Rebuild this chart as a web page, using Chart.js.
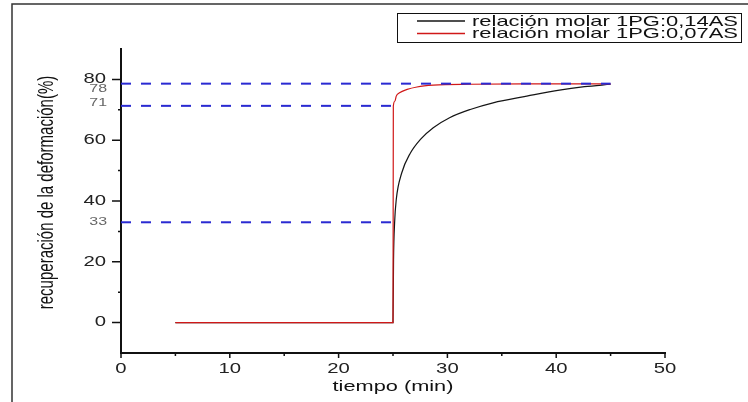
<!DOCTYPE html>
<html>
<head>
<meta charset="utf-8">
<script src="https://cdn.jsdelivr.net/npm/chart.js@4/dist/chart.umd.min.js"></script>
<style>
  html, body { margin: 0; padding: 0; background: #fff; }
  #chart { display: block; }
</style>
</head>
<body>
<canvas id="chart" width="748" height="402"></canvas>
<script>
// ===== data =====
const seriesLabels = ['relación molar 1PG:0,14AS', 'relación molar 1PG:0,07AS'];
const seriesColors = ['#151515', '#d01818'];

const blackX = [5, 25, 25.05, 25.15, 25.3, 25.8, 26.6, 27.5, 28.7, 30.2, 32.1, 34.2, 37.3, 40.3, 42.6, 45];
const blackY = [0, 0, 20.7, 33, 40.5, 49.2, 55.8, 60.2, 64.1, 67.4, 70.1, 72.3, 74.5, 76.5, 77.6, 78.4];

const redX = [5, 25, 25.03, 25.18, 25.3, 25.6, 26.3, 27.2, 28.7, 32, 38, 45];
const redY = [0, 0, 71.2, 72.9, 74.5, 75.6, 76.7, 77.5, 78.1, 78.4, 78.5, 78.5];

// dashed reference lines
const refY = [78.6, 71.3, 33];
const refEndX = [45, 25, 25.15];
const refLabels = ['78', '71', '33'];

// axis ticks
const xMajor = [0, 10, 20, 30, 40, 50];
const xMinor = [5, 15, 25, 35, 45];
const yMajor = [0, 20, 40, 60, 80];
const yMinor = [10, 30, 50, 70];

const xTitle = 'tiempo (min)';
const yTitle = 'recuperación de la deformación(%)';

// ===== helpers =====
const FONT = "'Liberation Sans', Arial, sans-serif";
const STRETCH = 1.45; // the picture is stretched sideways

function toPoints(xs, ys) {
  return xs.map((x, i) => ({ x: x, y: ys[i] }));
}

// draws text stretched sideways; fitWidth forces the final width
function wideText(ctx, text, x, y, size, align, color, rotate, fitWidth) {
  ctx.save();
  ctx.font = size + 'px ' + FONT;
  let sx = STRETCH;
  if (fitWidth) sx = fitWidth / ctx.measureText(text).width;
  ctx.translate(x, y);
  ctx.scale(sx, 1);
  if (rotate) ctx.rotate(-Math.PI / 2);
  ctx.fillStyle = color;
  ctx.textAlign = align;
  ctx.textBaseline = 'middle';
  ctx.fillText(text, 0, 0);
  ctx.restore();
}

const refDatasets = refY.map((y, i) => ({
  label: 'ref' + refLabels[i],
  data: [{ x: 0, y: y }, { x: refEndX[i], y: y }],
  borderColor: '#2a2ad2',
  borderWidth: 2,
  borderDash: [10, 10],
  pointRadius: 0,
  order: -1
}));

// ===== custom decorations: frame, ticks, labels, legend =====
const decor = {
  id: 'decor',
  beforeDraw(chart) {
    const ctx = chart.ctx;
    ctx.save();
    ctx.strokeStyle = '#333';
    ctx.lineWidth = 1.5;
    ctx.beginPath();
    ctx.moveTo(12, 402);
    ctx.lineTo(12, 4);
    ctx.lineTo(748, 4);
    ctx.stroke();
    ctx.restore();
  },
  afterDraw(chart) {
    const ctx = chart.ctx;
    const xs = chart.scales.x, ys = chart.scales.y;
    const area = chart.chartArea;

    ctx.save();
    ctx.strokeStyle = '#111';
    ctx.lineWidth = 1.5;
    ctx.beginPath();
    xMajor.forEach(v => { const p = xs.getPixelForValue(v); ctx.moveTo(p, area.bottom); ctx.lineTo(p, area.bottom + 5); });
    xMinor.forEach(v => { const p = xs.getPixelForValue(v); ctx.moveTo(p, area.bottom); ctx.lineTo(p, area.bottom + 3); });
    yMajor.forEach(v => { const p = ys.getPixelForValue(v); ctx.moveTo(area.left - 9, p); ctx.lineTo(area.left, p); });
    yMinor.forEach(v => { const p = ys.getPixelForValue(v); ctx.moveTo(area.left - 3, p); ctx.lineTo(area.left, p); });
    ctx.stroke();
    ctx.restore();

    xMajor.forEach(v => wideText(ctx, String(v), xs.getPixelForValue(v), area.bottom + 16, 14, 'center', '#222'));
    yMajor.forEach(v => wideText(ctx, String(v), area.left - 15, ys.getPixelForValue(v), 14, 'right', '#222'));

    const labelShift = [3, -4, 0];
    refLabels.forEach((t, i) => {
      wideText(ctx, t, area.left - 14, ys.getPixelForValue(Number(t)) + labelShift[i], 11, 'right', '#666');
    });

    wideText(ctx, xTitle, (area.left + area.right) / 2, 387, 15, 'center', '#111');
    wideText(ctx, yTitle, 47, 192.5, 15, 'center', '#111', true);

    // legend box
    ctx.save();
    ctx.strokeStyle = '#111';
    ctx.lineWidth = 1;
    ctx.strokeRect(397.5, 13.5, 344, 29);
    seriesLabels.forEach((t, i) => {
      const yy = 21 + i * 12.5;
      ctx.strokeStyle = seriesColors[i];
      ctx.lineWidth = 1.3;
      ctx.beginPath();
      ctx.moveTo(417, yy);
      ctx.lineTo(465, yy);
      ctx.stroke();
    });
    ctx.restore();
    seriesLabels.forEach((t, i) => wideText(ctx, t, 472, 21.5 + i * 12.5, 15, 'left', '#111', false, 266));
  }
};

new Chart(document.getElementById('chart'), {
  type: 'line',
  data: {
    datasets: [
      {
        label: seriesLabels[0],
        data: toPoints(blackX, blackY),
        borderColor: seriesColors[0],
        borderWidth: 1.2,
        pointRadius: 0,
        cubicInterpolationMode: 'monotone',
        order: 1
      },
      {
        label: seriesLabels[1],
        data: toPoints(redX, redY),
        borderColor: seriesColors[1],
        borderWidth: 1.2,
        pointRadius: 0,
        cubicInterpolationMode: 'monotone',
        order: 0
      },
      ...refDatasets
    ]
  },
  options: {
    responsive: false,
    animation: false,
    devicePixelRatio: 1,
    layout: { padding: { left: 0, right: 83, top: 49, bottom: 0 } },
    plugins: {
      legend: { display: false },
      tooltip: { enabled: false }
    },
    scales: {
      x: {
        type: 'linear',
        min: 0,
        max: 50,
        grid: { display: false },
        border: { display: true, color: '#111', width: 2 },
        ticks: { display: false },
        afterFit(scale) { scale.height = 49; }
      },
      y: {
        type: 'linear',
        min: -10,
        max: 90,
        grid: { display: false },
        border: { display: true, color: '#111', width: 2 },
        ticks: { display: false },
        afterFit(scale) { scale.width = 121; }
      }
    }
  },
  plugins: [decor]
});
</script>
</body>
</html>
